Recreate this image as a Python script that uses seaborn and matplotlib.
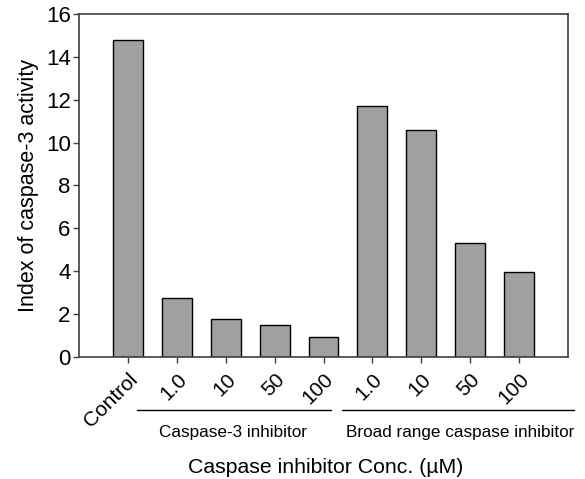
import numpy as np
import pandas as pd
import matplotlib
matplotlib.use("Agg")
import matplotlib.pyplot as plt
import matplotlib.transforms as mtransforms
import seaborn as sns

# data
conditions = ["Control", "C3 1.0", "C3 10", "C3 50", "C3 100",
              "BR 1.0", "BR 10", "BR 50", "BR 100"]
tick_labels = ["Control", "1.0", "10", "50", "100", "1.0", "10", "50", "100"]
activity = [14.8, 2.75, 1.75, 1.5, 0.93, 11.7, 10.6, 5.3, 3.95]
groups = ["Caspase-3 inhibitor", "Broad range caspase inhibitor"]

df = pd.DataFrame({"condition": conditions, "activity": activity})

sns.set_style("white", {"text.color": "black", "axes.labelcolor": "black",
                        "xtick.color": "black", "ytick.color": "black"})
plt.rcParams["font.family"] = ["Liberation Sans", "DejaVu Sans"]

fig = plt.figure(figsize=(5.85, 4.79), dpi=100)
ax = fig.add_axes([0.135, 0.255, 0.836, 0.716])

sns.barplot(data=df, x="condition", y="activity", order=conditions,
            color="#a0a0a0", saturation=1, width=0.61,
            edgecolor="black", linewidth=1, ax=ax)

ax.set_xlim(-1, 9)
ax.set_ylim(0, 16)
ax.set_yticks(range(0, 17, 2))
ax.tick_params(axis="y", labelsize=16, direction="out", length=4, width=1,
               color="#404040", labelcolor="black", left=True, pad=2)
ax.tick_params(axis="x", direction="out", length=4, width=1,
               color="#404040", labelcolor="black", bottom=True)
ax.set_xticks(range(len(conditions)))
ax.set_xticklabels(tick_labels, rotation=45, ha="right", va="center",
                   rotation_mode="anchor", fontsize=15)
for lab in ax.get_xticklabels():
    lab.set_transform(lab.get_transform() + mtransforms.ScaledTranslation(0.07, -0.09, fig.dpi_scale_trans))
for sp in ax.spines.values():
    sp.set_color("#404040")
    sp.set_linewidth(1.2)

ax.set_ylabel("Index of caspase-3 activity", fontsize=15.5, labelpad=5,
              color="black")
ax.set_xlabel("")

# group brackets under the tick labels
trans = mtransforms.blended_transform_factory(ax.transData, ax.transAxes)
ax.plot([0.18, 4.16], [-0.155, -0.155], color="black", lw=1,
        transform=trans, clip_on=False)
ax.plot([4.37, 9.12], [-0.155, -0.155], color="black", lw=1,
        transform=trans, clip_on=False)
ax.text(2.14, -0.22, groups[0], transform=trans, ha="center", va="center",
        fontsize=12.3, color="black")
ax.text(6.8, -0.22, groups[1], transform=trans, ha="center", va="center",
        fontsize=12.3, color="black")

fig.text(0.557, 0.025, "Caspase inhibitor Conc. (\u00b5M)", ha="center",
         va="center", fontsize=15.3, color="black")

fig.savefig("out.png", dpi=100)
